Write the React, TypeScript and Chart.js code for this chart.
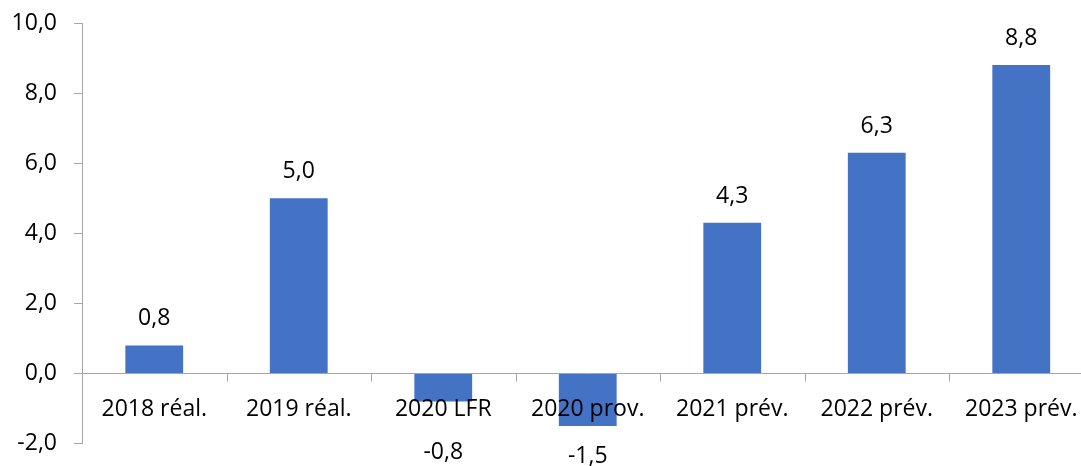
import React, { useEffect, useRef } from 'react';
import { Chart, registerables } from 'chart.js';

Chart.register(...registerables);

const categories = ['2018 réal.', '2019 réal.', '2020 LFR', '2020 prov.', '2021 prév.', '2022 prév.', '2023 prév.'];
const values = [0.8, 5.0, -0.8, -1.5, 4.3, 6.3, 8.8];
const yMin = -2;
const yMax = 10;
const yStep = 2;

const FONT = '"Open Sans", sans-serif';
const FONT_SIZE = 23;
const AXIS = '#A6A6A6';
const BAR = '#4472C4';
const TEXT = '#000000';

const fmt = (v: number) => v.toFixed(1).replace('.', ',');

const overlay = {
  id: 'overlay',
  afterDatasetsDraw(chart: any) {
    const { ctx, chartArea, scales } = chart;
    const y0 = scales.y.getPixelForValue(0);
    const xs = scales.x;
    const n = categories.length;
    ctx.save();
    ctx.strokeStyle = AXIS;
    ctx.lineWidth = 1;
    ctx.beginPath();
    const yy = Math.round(y0) + 0.5;
    ctx.moveTo(chartArea.left, yy);
    ctx.lineTo(chartArea.right, yy);
    for (let i = 1; i <= n; i++) {
      const px = Math.round(chartArea.left + (i * (chartArea.right - chartArea.left)) / n) + 0.5;
      ctx.moveTo(px, yy);
      ctx.lineTo(px, yy + 8);
    }
    ctx.stroke();

    ctx.font = `${FONT_SIZE}px ${FONT}`;
    ctx.fillStyle = TEXT;
    ctx.textAlign = 'center';
    ctx.textBaseline = 'alphabetic';
    categories.forEach((c, i) => {
      ctx.fillText(c, xs.getPixelForValue(i), y0 + 43);
    });

    const meta = chart.getDatasetMeta(0);
    meta.data.forEach((bar: any, i: number) => {
      const v = values[i];
      if (v >= 0) {
        ctx.fillText(fmt(v), bar.x, bar.y - 20);
      } else {
        ctx.fillText(fmt(v), bar.x, Math.max(bar.y + 37, y0 + 86));
      }
    });
    ctx.restore();
  },
};

export default function App() {
  const ref = useRef<HTMLCanvasElement | null>(null);

  useEffect(() => {
    document.body.style.margin = '0';
    document.body.style.background = '#ffffff';
    const canvas = ref.current;
    if (!canvas) return;
    const chart = new Chart(canvas, {
      type: 'bar',
      data: {
        labels: categories,
        datasets: [
          {
            data: values,
            backgroundColor: BAR,
            borderWidth: 0,
            barPercentage: 0.4,
            categoryPercentage: 1,
          },
        ],
      },
      options: {
        responsive: false,
        animation: false,
        layout: { padding: { left: 0, right: 6.5, top: 23, bottom: 22.5 } },
        plugins: {
          legend: { display: false },
          tooltip: { enabled: false },
        },
        scales: {
          x: {
            type: 'category',
            display: false,
            offset: true,
          },
          y: {
            min: yMin,
            max: yMax,
            afterFit: (scale: any) => {
              scale.width = 82;
              scale.paddingTop = 0;
              scale.paddingBottom = 0;
            },
            border: { display: true, color: AXIS, width: 1 },
            grid: {
              display: true,
              drawOnChartArea: false,
              drawTicks: true,
              tickLength: 8,
              color: AXIS,
            },
            ticks: {
              stepSize: yStep,
              padding: 17,
              color: TEXT,
              font: { family: FONT, size: FONT_SIZE },
              callback: (v: any) => fmt(Number(v)),
            },
          },
        },
      },
      plugins: [overlay],
    });
    return () => chart.destroy();
  }, []);

  return (
    <div style={{ position: 'absolute', left: 0, top: 0, width: 1081, height: 466, overflow: 'hidden', background: '#fff' }}>
      <canvas ref={ref} width={1100} height={466} style={{ display: 'block' }} />
    </div>
  );
}
